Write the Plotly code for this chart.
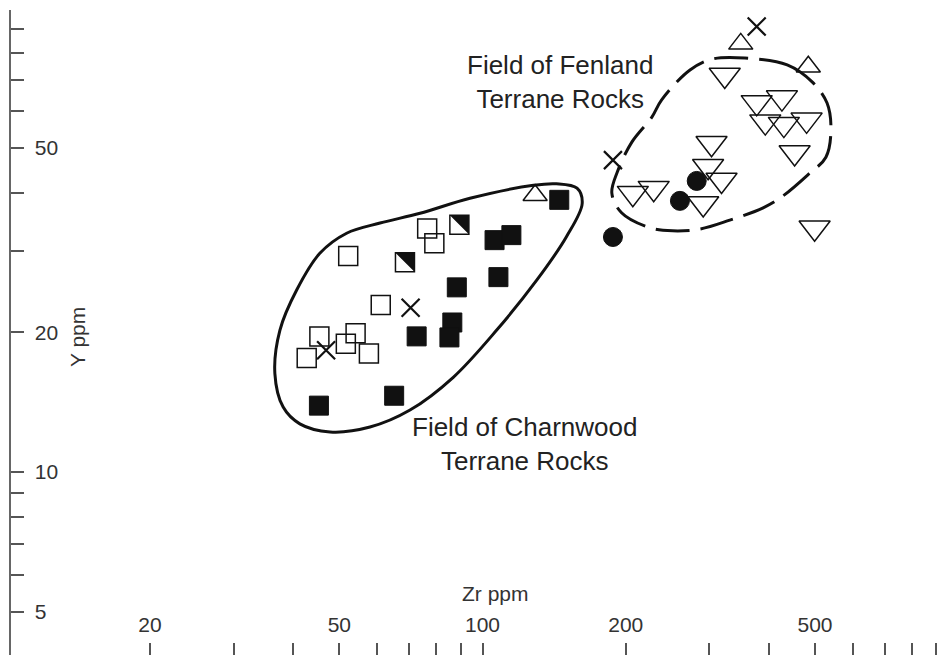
import math
import plotly.graph_objects as go

# ---------------- data (Zr ppm vs Y ppm) ----------------
filled_sq_zr = [145, 106, 115, 108, 88.3, 86.4, 85.2, 72.7, 45.3, 65.2]
filled_sq_y = [38.6, 31.6, 32.4, 26.3, 25.0, 21.0, 19.5, 19.6, 13.9, 14.6]

open_sq_zr = [76.5, 79.2, 52.2, 61.1, 45.4, 54.1, 51.6, 42.7, 57.7]
open_sq_y = [33.5, 31.1, 29.2, 22.9, 19.6, 19.9, 18.9, 17.6, 18.0]

half_sq_zr = [89.4, 68.7]
half_sq_y = [34.1, 28.3]

cross_zr = [70.6, 46.9, 377, 188]
cross_y = [22.6, 18.3, 91.2, 47.0]

tri_up_zr = [129, 349, 484]
tri_up_y = [39.5, 83.7, 74.7]

tri_dn_zr = [323, 377, 426, 393, 430, 480, 453, 303, 298, 318, 291, 207, 229, 499]
tri_dn_y = [71.7, 62.6, 64.1, 56.9, 56.2, 57.4, 48.8, 51.1, 45.6, 42.6, 37.9, 39.9, 40.9, 33.6]

circle_zr = [188, 260, 282]
circle_y = [32.1, 38.4, 42.4]

# field boundaries
charnwood_zr = [94.1, 128, 143, 158, 162, 150, 130, 107, 86.8, 70.4, 58.0, 47.8, 41.3, 38.1,
                36.6, 37.5, 40.7, 45.5, 51.8, 60.9, 73.9, 94.1]
charnwood_y = [38.9, 41.5, 41.8, 40.9, 37.9, 32.1, 25.9, 20.2, 16.0, 13.6, 12.5, 12.2, 12.7, 13.8,
               16.3, 20.2, 24.7, 29.6, 32.7, 34.4, 36.1, 38.9]

fenland_zr = [356, 437, 493, 530, 540, 527, 483, 426, 389, 331, 287, 251, 225, 196, 187, 192,
              206, 227, 238, 273, 304, 356]
fenland_y = [78.0, 75.4, 69.3, 62.4, 54.6, 47.7, 43.7, 39.2, 37.1, 34.9, 33.4, 33.1, 33.6, 36.2,
             39.9, 44.3, 51.4, 58.2, 63.4, 73.5, 77.6, 78.0]

# axis ticks
x_tickvals = [20, 30, 40, 50, 60, 70, 80, 90, 100, 200, 300, 400, 500, 600, 700, 800, 900]
x_ticktext = ["20", "", "", "50", "", "", "", "", "100", "200", "", "", "500", "", "", "", ""]
x_top_tickvals = [20, 30, 40, 50, 60, 70, 80, 90, 100, 200, 400, 500, 600, 700, 800, 900]
y_tickvals = [5, 6, 7, 8, 9, 10, 20, 30, 40, 50, 60, 70, 80, 90]
y_ticktext = ["5", "", "", "", "", "10", "20", "", "", "50", "", "", "", ""]

X_RANGE = [1.0088, 2.9743]
Y_RANGE = [0.6056, 1.9957]

FONT = "Liberation Sans, Arial, sans-serif"
INK = "#111111"

W, H = 946, 655
M_L, M_R, M_T, M_B = 11, 0, 10, 0
SQ = 19  # square marker size (px)

# pixels per decade of the log axes (used to build the half-filled square glyph)
px_dec_x = (W - M_L - M_R) / (X_RANGE[1] - X_RANGE[0])
px_dec_y = (H - M_T - M_B) / (Y_RANGE[1] - Y_RANGE[0])
hx = 10 ** ((SQ / 2) / px_dec_x)
hy = 10 ** ((SQ / 2) / px_dec_y)
half_fill_x, half_fill_y = [], []
for zx, yy in zip(half_sq_zr, half_sq_y):
    half_fill_x += [zx / hx, zx * hx, zx * hx, zx / hx, None]
    half_fill_y += [yy * hy, yy * hy, yy / hy, yy * hy, None]

fig = go.Figure()

fig.add_trace(go.Scatter(x=charnwood_zr, y=charnwood_y, mode="lines",
                         line=dict(color=INK, width=3, shape="spline", smoothing=1.0),
                         hoverinfo="skip"))
fig.add_trace(go.Scatter(x=fenland_zr, y=fenland_y, mode="lines",
                         line=dict(color=INK, width=3, shape="spline", smoothing=1.0,
                                   dash="34px,11px"),
                         hoverinfo="skip"))

fig.add_trace(go.Scatter(x=open_sq_zr, y=open_sq_y, mode="markers",
                         marker=dict(symbol="square-open", size=SQ, color=INK,
                                     line=dict(width=1.5, color=INK))))
fig.add_trace(go.Scatter(x=filled_sq_zr, y=filled_sq_y, mode="markers",
                         marker=dict(symbol="square", size=SQ, color=INK,
                                     line=dict(width=1, color=INK))))
fig.add_trace(go.Scatter(x=half_fill_x, y=half_fill_y, mode="lines", fill="toself",
                         fillcolor=INK, line=dict(width=0, color=INK),
                         hoverinfo="skip"))
fig.add_trace(go.Scatter(x=half_sq_zr, y=half_sq_y, mode="markers",
                         marker=dict(symbol="square-open", size=SQ, color=INK,
                                     line=dict(width=1.5, color=INK))))
fig.add_trace(go.Scatter(x=circle_zr, y=circle_y, mode="markers",
                         marker=dict(symbol="circle", size=19, color=INK,
                                     line=dict(width=1, color=INK))))
fig.add_trace(go.Scatter(x=tri_up_zr, y=tri_up_y, mode="markers",
                         marker=dict(symbol="triangle-up-open", size=21, color=INK,
                                     line=dict(width=1.5, color=INK))))
fig.add_trace(go.Scatter(x=tri_dn_zr, y=tri_dn_y, mode="markers",
                         marker=dict(symbol="triangle-down-open", size=27, color=INK,
                                     line=dict(width=1.5, color=INK))))
fig.add_trace(go.Scatter(x=cross_zr, y=cross_y, mode="markers",
                         marker=dict(symbol="x-thin-open", size=18, color=INK,
                                     line=dict(width=2.2, color=INK))))

tickfont = dict(family=FONT, size=21, color="#333333")

fig.update_layout(
    width=W, height=H,
    margin=dict(l=M_L, r=M_R, t=M_T, b=M_B),
    paper_bgcolor="white", plot_bgcolor="white",
    showlegend=False,
    xaxis=dict(type="log", range=X_RANGE, tickvals=x_tickvals, ticktext=x_ticktext,
               ticks="inside", ticklen=12, tickwidth=2, tickcolor="#555555",
               ticklabelposition="inside", ticklabelstandoff=8, tickfont=tickfont,
               showline=False, showgrid=False, zeroline=False),
    xaxis2=dict(type="log", range=X_RANGE, overlaying="x", side="top", anchor="y",
                tickvals=x_top_tickvals, ticks="inside", ticklen=13, tickwidth=2,
                tickcolor="#555555", showticklabels=False,
                showline=True, linecolor="#222222", linewidth=2,
                showgrid=False, zeroline=False),
    yaxis=dict(type="log", range=Y_RANGE, tickvals=y_tickvals, ticktext=y_ticktext,
               ticks="inside", ticklen=13, tickwidth=2, tickcolor="#555555",
               ticklabelposition="inside", ticklabelstandoff=12, tickfont=tickfont,
               showline=True, linecolor="#666666", linewidth=2,
               showgrid=False, zeroline=False),
    yaxis2=dict(type="log", range=Y_RANGE, overlaying="y", side="right", anchor="x",
                tickvals=y_tickvals, ticks="inside", ticklen=11, tickwidth=2,
                tickcolor="#666666", showticklabels=False, showline=False,
                showgrid=False, zeroline=False),
)

ann_font = dict(family=FONT, size=26, color="#222222")
common = dict(xref="paper", yref="paper", showarrow=False, xanchor="center", yanchor="middle")
fig.add_annotation(text="Field of Fenland<br>Terrane Rocks", x=0.5872, y=0.889,
                   font=ann_font, align="center", **common)
fig.add_annotation(text="Field of Charnwood<br>Terrane Rocks", x=0.5487, y=0.3264,
                   font=ann_font, align="center", **common)
fig.add_annotation(text="Zr ppm", x=0.5187, y=0.0961,
                   font=dict(family=FONT, size=21, color="#333333"), **common)
fig.add_annotation(text="Y ppm", x=0.0706, y=0.493, textangle=-90,
                   font=dict(family=FONT, size=21, color="#333333"), **common)

fig.write_html("out.html")
